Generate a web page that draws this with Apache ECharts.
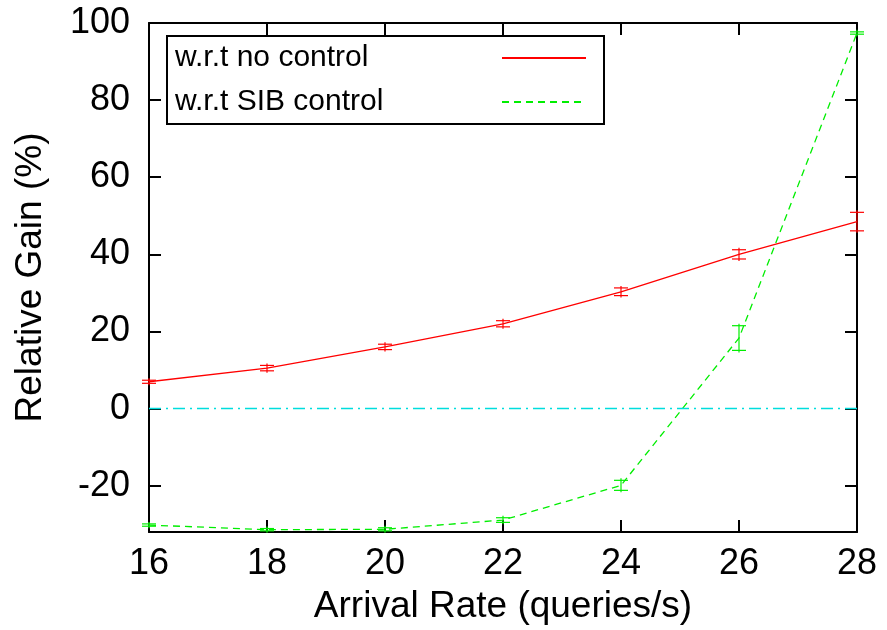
<!DOCTYPE html>
<html>
<head>
<meta charset="utf-8">
<script src="https://cdn.jsdelivr.net/npm/echarts@6/dist/echarts.min.js"></script>
<style>html,body{margin:0;padding:0;background:#fff}#c{width:887px;height:630px}</style>
</head>
<body>
<div id="c"></div>
<script>
const xValues = [16, 18, 20, 22, 24, 26, 28];
const noControl = [6.96, 10.5, 16.0, 22.0, 30.3, 40.0, 48.5];
const noControlErr = [0.4, 0.7, 0.7, 0.8, 1.0, 1.2, 2.4];
const sibControl = [-30.2, -31.4, -31.3, -28.9, -19.9, 18.3, 97.4];
const sibControlErr = [0.3, 0.3, 0.4, 0.6, 1.3, 3.2, 0.3];
const yTicks = [-20, 0, 20, 40, 60, 80, 100];
const seriesNames = ['w.r.t no control', 'w.r.t SIB control'];

const font = 'Liberation Sans, Arial, sans-serif';
function pairs(v) { return xValues.map((x, i) => [x, v[i]]); }
function errData(v, e) { return xValues.map((x, i) => [x, v[i] - e[i], v[i] + e[i]]); }
function errSeries(v, e, color) {
  return {
    type: 'custom', xAxisIndex: 0, yAxisIndex: 0, z: 5, silent: true,
    data: errData(v, e),
    renderItem: function (params, api) {
      const lo = api.coord([api.value(0), api.value(1)]);
      const hi = api.coord([api.value(0), api.value(2)]);
      const w = 7;
      const st = { stroke: color, lineWidth: 1.2 };
      return { type: 'group', children: [
        { type: 'line', shape: { x1: lo[0], y1: lo[1] + 2, x2: hi[0], y2: hi[1] - 2 }, style: st },
        { type: 'line', shape: { x1: lo[0] - w, y1: lo[1], x2: lo[0] + w, y2: lo[1] }, style: st },
        { type: 'line', shape: { x1: hi[0] - w, y1: hi[1], x2: hi[0] + w, y2: hi[1] }, style: st }
      ]};
    }
  };
}

const chart = echarts.init(document.getElementById('c'), null, { renderer: 'canvas' });
const axisLine = { show: true, onZero: false, lineStyle: { color: '#000', width: 2 } };
const tick = { show: true, inside: true, length: 12, lineStyle: { color: '#000', width: 2 } };
chart.setOption({
  animation: false,
  backgroundColor: '#fff',
  textStyle: { fontFamily: font },
  grid: { left: 149, right: 30, top: 23, bottom: 95, containLabel: false },
  legend: {
    left: 167, top: 36, orient: 'vertical', align: 'right',
    data: seriesNames,
    itemWidth: 84, itemHeight: 22, itemGap: 14,
    padding: [7, 17, 7, 8],
    borderColor: '#000', borderWidth: 2, backgroundColor: '#fff',
    itemStyle: { opacity: 0 },
    formatter: function (name) { return '{t|' + name + '}'; },
    textStyle: {
      fontFamily: font, fontSize: 30, color: '#000',
      rich: { t: { width: 322, height: 30, lineHeight: 30, align: 'left', fontFamily: font, fontSize: 30, color: '#000' } }
    }
  },
  xAxis: [{
    type: 'value', min: 16, max: 28, interval: 2, position: 'bottom',
    axisLine: axisLine, axisTick: tick, splitLine: { show: false },
    axisLabel: { fontSize: 36, color: '#000', margin: 14, fontFamily: font },
    name: 'Arrival Rate (queries/s)', nameLocation: 'middle', nameGap: 56,
    nameTextStyle: { fontSize: 37, color: '#000', fontFamily: font }
  }, {
    type: 'value', min: 16, max: 28, interval: 2, position: 'top',
    axisLine: axisLine, axisTick: tick, splitLine: { show: false }, axisLabel: { show: false }
  }],
  yAxis: [{
    type: 'value', min: -32, max: 100, position: 'left',
    axisLine: axisLine,
    axisTick: Object.assign({ customValues: yTicks }, tick),
    splitLine: { show: false },
    axisLabel: { customValues: yTicks, fontSize: 36, color: '#000', margin: 19, fontFamily: font },
    name: 'Relative Gain (%)', nameLocation: 'middle', nameGap: 100,
    nameTextStyle: { fontSize: 37, color: '#000', fontFamily: font }
  }, {
    type: 'value', min: -32, max: 100, position: 'right',
    axisLine: axisLine,
    axisTick: Object.assign({ customValues: yTicks }, tick),
    splitLine: { show: false }, axisLabel: { show: false }
  }],
  series: [{
    name: seriesNames[0], type: 'line', data: pairs(noControl),
    symbol: 'none', z: 4, color: '#ff0000',
    lineStyle: { color: '#ff0000', width: 1.3 },
    markLine: {
      silent: true, symbol: 'none', label: { show: false },
      lineStyle: { color: '#00dddd', width: 1.3, type: [12, 5, 2, 5] },
      data: [{ yAxis: 0 }]
    }
  }, {
    name: seriesNames[1], type: 'line', data: pairs(sibControl),
    symbol: 'none', z: 4, color: '#00ff00',
    lineStyle: { color: '#00ee00', width: 1.3, type: [7, 5] }
  },
  errSeries(noControl, noControlErr, '#ff0000'),
  errSeries(sibControl, sibControlErr, '#00ee00')
  ]
});
</script>
</body>
</html>
